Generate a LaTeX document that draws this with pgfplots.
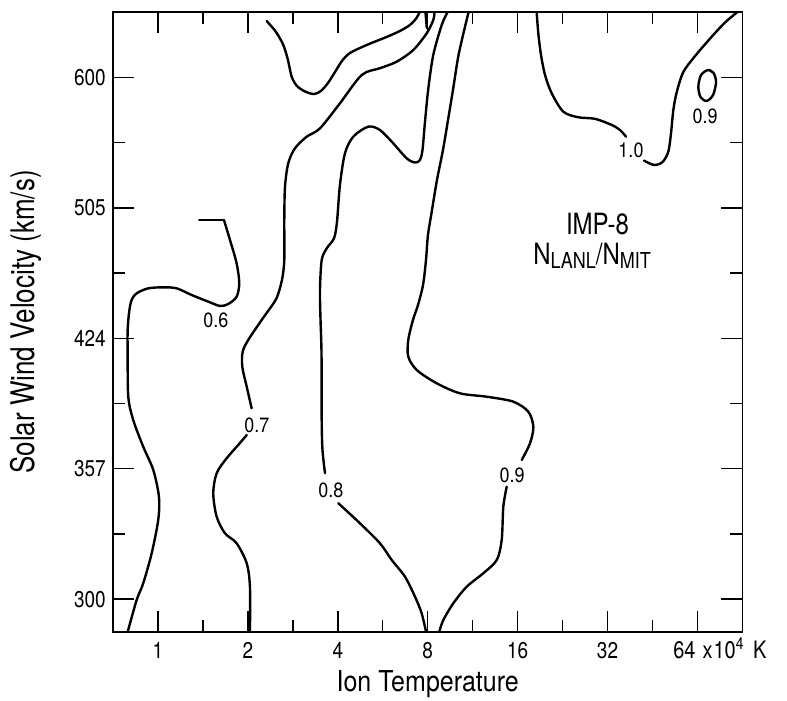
\documentclass[border=0pt]{standalone}
\usepackage{fontspec}
\setmainfont{TeX Gyre Heros}
\usepackage{pgfplots}
\pgfplotsset{compat=1.18}
\begin{document}
\begin{tikzpicture}[x=1pt,y=1pt]
\useasboundingbox (0,0) rectangle (787,701);
\begin{axis}[
  at={(113pt,69.3pt)}, anchor=south west,
  scale only axis, width=629.4pt, height=619.4pt,
  xmin=-0.5, xmax=6.5, ymin=-0.25, ymax=4.5,
  clip mode=individual,
  axis line style={line width=1.8pt},
  xtick={0,1,2,3,4,5,6}, xticklabels={1,2,4,8,16,32,},
  minor xtick={0.5,1.5,2.5,3.5,4.5,5.5},
  ytick={0,1,2,3,4}, yticklabels={300,357,424,505,600},
  minor ytick={0.5,1.5,2.5,3.5},
  tick align=inside,
  major tick length=21pt, minor tick length=12pt,
  every tick/.append style={black, line width=1.5pt},
  /pgf/number format/assume math mode=true,
  xticklabel style={font=\fontsize{19}{19}\selectfont, anchor=base, inner sep=0pt, yshift=-27.3pt, yscale=1.2},
  yticklabel style={font=\fontsize{19}{19}\selectfont, anchor=east, inner sep=0pt, xshift=-7pt, yscale=1.2},
  every axis plot/.append style={black, line width=2.4pt, mark=none, line cap=round, line join=round},
]
% contour 0.6
\addplot[sharp plot] coordinates {(0.459,2.907) (0.734,2.907)};
\addplot[smooth] coordinates {(0.734,2.907) (0.801,2.754) (0.875,2.575) (0.904,2.422) (0.875,2.319) (0.782,2.263) (0.690,2.248) (0.560,2.281) (0.375,2.332) (0.208,2.383) (0.059,2.391) (-0.108,2.383) (-0.237,2.345) (-0.293,2.294) (-0.320,2.204) (-0.337,2.064) (-0.337,1.885) (-0.330,1.552) (-0.275,1.373) (-0.164,1.169) (-0.052,0.990) (0.011,0.785) (0.003,0.607) (-0.070,0.351) (-0.164,0.121) (-0.237,-0.007) (-0.336,-0.25)};
% contour 0.7
\addplot[smooth] coordinates {(1.023,-0.25) (1.023,0.095) (0.987,0.275) (0.875,0.428) (0.745,0.505) (0.653,0.632) (0.615,0.811) (0.653,0.965) (0.764,1.080) (0.893,1.182) (0.987,1.258)};
\addplot[smooth] coordinates {(1.042,1.463) (0.987,1.629) (0.938,1.782) (0.942,1.897) (1.004,1.987) (1.153,2.140) (1.224,2.209) (1.320,2.309) (1.379,2.447) (1.405,2.600) (1.405,2.907) (1.413,3.163) (1.449,3.342) (1.524,3.457) (1.654,3.546) (1.802,3.610) (2.024,3.802) (2.266,4.019) (2.469,4.071) (2.655,4.121) (2.840,4.211) (2.989,4.339) (3.062,4.441) (3.076,4.5)};
\addplot[sharp plot] coordinates {(2.99,4.38) (2.975,4.5)};
% upper contour
\addplot[smooth] coordinates {(1.209,4.433) (1.313,4.349) (1.394,4.249) (1.446,4.134) (1.487,4.006) (1.546,3.935) (1.635,3.893) (1.735,3.873) (1.813,3.897) (1.891,3.958) (1.969,4.042) (2.047,4.127) (2.136,4.188) (2.321,4.249) (2.544,4.311) (2.692,4.357) (2.803,4.403) (2.875,4.456) (2.909,4.5)};
% contour 0.8
\addplot[smooth] coordinates {(2.981,-0.25) (2.933,-0.109) (2.859,0.018) (2.747,0.172) (2.600,0.300) (2.469,0.428) (2.247,0.581) (2.006,0.735)};
\addplot[smooth] coordinates {(1.858,0.965) (1.830,1.143) (1.821,1.373) (1.819,1.885) (1.808,2.140) (1.802,2.370) (1.821,2.600) (1.877,2.690) (1.958,2.767) (1.991,2.892) (2.024,3.176) (2.080,3.419) (2.172,3.546) (2.339,3.623) (2.469,3.597) (2.617,3.495) (2.766,3.380) (2.859,3.348) (2.914,3.367) (2.942,3.444) (2.970,3.661) (3.007,3.917) (3.062,4.173) (3.156,4.403) (3.220,4.5)};
% contour 0.9
\addplot[smooth] coordinates {(3.129,-0.25) (3.174,-0.160) (3.285,-0.032) (3.434,0.095) (3.618,0.198) (3.768,0.300) (3.823,0.453) (3.841,0.709) (3.879,0.862)};
\addplot[smooth] coordinates {(4.046,1.067) (4.138,1.195) (4.175,1.322) (4.119,1.437) (3.952,1.514) (3.656,1.552) (3.359,1.578) (3.100,1.655) (2.878,1.757) (2.784,1.859) (2.784,1.987) (2.836,2.140) (2.892,2.255) (2.948,2.409) (2.981,2.600) (3.003,2.792) (3.048,2.984) (3.103,3.214) (3.170,3.444) (3.226,3.674) (3.281,3.904) (3.337,4.150) (3.393,4.326) (3.454,4.5)};
% contour 1.0
\addplot[smooth] coordinates {(4.212,4.5) (4.230,4.339) (4.260,4.173) (4.305,4.019) (4.379,3.879) (4.508,3.738) (4.675,3.695) (4.861,3.683) (5.047,3.636) (5.139,3.597) (5.206,3.546)};
\addplot[smooth] coordinates {(5.406,3.363) (5.517,3.329) (5.612,3.352) (5.676,3.431) (5.706,3.572) (5.732,3.751) (5.770,3.889) (5.843,4.042) (5.974,4.165) (6.159,4.313) (6.307,4.422) (6.441,4.5)};
% small 0.9 loop
\addplot[smooth] coordinates {(6.121,4.058) (6.179,4.035) (6.207,3.966) (6.174,3.866) (6.103,3.820) (6.034,3.850) (6.010,3.929) (6.040,4.019) (6.121,4.058) (6.179,4.035)};
% contour labels
\begin{scope}[every node/.style={font=\fontsize{18}{18}\selectfont, yscale=1.15, inner sep=0pt}]
\node at (axis cs:0.645,2.140) {0.6};
\node at (axis cs:1.101,1.335) {0.7};
\node at (axis cs:1.924,0.837) {0.8};
\node at (axis cs:3.938,0.952) {0.9};
\node at (axis cs:5.261,3.444) {1.0};
\node at (axis cs:6.085,3.705) {0.9};
\end{scope}
\node[font=\fontsize{24}{24}\selectfont, yscale=1.22, inner sep=0pt] at (axis cs:4.889,2.876) {IMP-8};
\node[font=\fontsize{24}{24}\selectfont, yscale=1.22, inner sep=0pt] at (axis cs:4.828,2.630) {N\raisebox{-3pt}{\fontsize{18}{18}\selectfont LANL}/N\raisebox{-3pt}{\fontsize{18}{18}\selectfont MIT}};
\node[font=\fontsize{20}{20}\selectfont, anchor=base west, inner sep=0pt, yshift=-27.3pt, yscale=1.2] at (axis cs:5.729,-0.25) {64\hspace{7pt}x\hspace{1pt}10\textsuperscript{4}\hspace{9pt}K};
\end{axis}
\node[font=\fontsize{25}{25}\selectfont, anchor=base, inner sep=0pt, yscale=1.15] at (427.7,9) {Ion Temperature};
\node[font=\fontsize{26}{26}\selectfont, rotate=90, yscale=1.25, inner sep=0pt] at (26,379) {Solar Wind Velocity (km/s)};
\end{tikzpicture}
\end{document}
